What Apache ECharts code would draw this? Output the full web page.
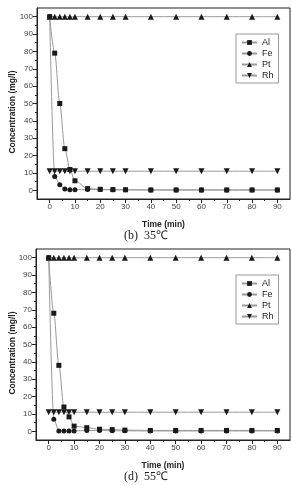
<!DOCTYPE html>
<html>
<head>
<meta charset="utf-8">
<script src="https://cdn.jsdelivr.net/npm/echarts@6/dist/echarts.min.js"></script>
<style>
  html, body { margin: 0; padding: 0; background: #fff; }
  #chart { width: 292px; height: 485px; }
</style>
</head>
<body>
<div id="chart"></div>
<script>
// sampling times (min)
const times = [0, 2, 4, 6, 8, 10, 15, 20, 25, 30, 40, 50, 60, 70, 80, 90];

// (b) 35℃
const al35 = [100, 79, 50, 24, 12, 5.5, 1, 0.6, 0.4, 0.3, 0.2, 0.2, 0.2, 0.2, 0.2, 0.2];
const fe35 = [100, 8, 3.2, 0.8, 0.3, 0.3, 0.5, 0.4, 0.3, 0.3, 0.2, 0.2, 0.2, 0.2, 0.2, 0.2];
const pt35 = [100, 100, 100, 100, 100, 100, 100, 100, 100, 100, 100, 100, 100, 100, 100, 100];
const rh35 = [11, 11, 11, 11, 11, 11, 11, 11, 11, 11, 11, 11, 11, 11, 11, 11];

// (d) 55℃
const al55 = [100, 68, 38, 14, 8.3, 3, 2.1, 1.2, 1, 0.7, 0.5, 0.5, 0.5, 0.5, 0.5, 0.5];
const fe55 = [100, 7, 0.2, 0.2, 0.2, 0.2, 0.5, 0.5, 0.3, 0.3, 0.2, 0.2, 0.2, 0.2, 0.2, 0.2];
const pt55 = [100, 100, 100, 100, 100, 100, 100, 100, 100, 100, 100, 100, 100, 100, 100, 100];
const rh55 = [11, 11, 11, 11, 11, 11, 11, 11, 11, 11, 11, 11, 11, 11, 11, 11];

// tick labels
const xTicks = [0, 10, 20, 30, 40, 50, 60, 70, 80, 90];
const xMinor = [5, 15, 25, 35, 45, 55, 65, 75, 85];
const yTicks = [0, 10, 20, 30, 40, 50, 60, 70, 80, 90, 100];
const yMinor = [5, 15, 25, 35, 45, 55, 65, 75, 85, 95];

const metals = ['Al', 'Fe', 'Pt', 'Rh'];
const captions = ['(b)  35℃', '(d)  55℃'];

const font = 'Liberation Sans, Arial, sans-serif';
const ink = '#222';

const chart = echarts.init(document.getElementById('chart'));

const grids = [
  { left: 37, top: 8, width: 253, height: 191 },
  { left: 36, top: 249, width: 254, height: 191 }
];

const xAxes = [];
const yAxes = [];
grids.forEach((g, gi) => {
  // main axes (labels + major ticks)
  xAxes.push({
    type: 'value', gridIndex: gi, min: -5, max: 95,
    name: 'Time (min)', nameLocation: 'middle', nameGap: 21,
    nameTextStyle: { fontFamily: font, fontSize: 8.5, fontWeight: 'bold', color: ink },
    axisLine: { onZero: false, lineStyle: { color: ink, width: 1 } },
    axisTick: { length: 4, customValues: xTicks, lineStyle: { color: ink } },
    axisLabel: { customValues: xTicks, fontFamily: font, fontSize: 8, color: '#444', margin: 4 },
    splitLine: { show: false }
  });
  yAxes.push({
    type: 'value', gridIndex: gi, min: -5, max: 105,
    axisLine: { show: true, onZero: false, lineStyle: { color: ink, width: 1 } },
    axisTick: { show: true, length: 4, customValues: yTicks, lineStyle: { color: ink } },
    axisLabel: { customValues: yTicks, fontFamily: font, fontSize: 8, color: '#444', margin: 4 },
    splitLine: { show: false }
  });
  // overlay axes for minor ticks
  xAxes.push({
    type: 'value', gridIndex: gi, min: -5, max: 95, position: 'bottom',
    axisLine: { show: false, onZero: false },
    axisTick: { length: 2, customValues: xMinor, lineStyle: { color: ink } },
    axisLabel: { show: false },
    splitLine: { show: false }
  });
  yAxes.push({
    type: 'value', gridIndex: gi, min: -5, max: 105, position: 'left',
    axisLine: { show: false, onZero: false },
    axisTick: { show: true, length: 2, customValues: yMinor, lineStyle: { color: ink } },
    axisLabel: { show: false },
    splitLine: { show: false }
  });
});

function line(name, vals, symbol, size, gi, rotate) {
  return {
    name: name,
    type: 'line',
    xAxisIndex: gi * 2,
    yAxisIndex: gi * 2,
    data: times.map((t, i) => [t, vals[i]]),
    symbol: symbol,
    symbolSize: size,
    symbolRotate: rotate || 0,
    smooth: 0.3,
    smoothMonotone: 'x',
    lineStyle: { color: '#9a9a9a', width: 1 },
    itemStyle: { color: '#1a1a1a' },
    emphasis: { disabled: true }
  };
}

const series = [
  line('Al', al35, 'rect', 5, 0),
  line('Fe', fe35, 'circle', 5, 0),
  line('Pt', pt35, 'triangle', 6, 0),
  line('Rh', rh35, 'triangle', 6, 0, 180),
  line('Al', al55, 'rect', 5, 1),
  line('Fe', fe55, 'circle', 5, 1),
  line('Pt', pt55, 'triangle', 6, 1),
  line('Rh', rh55, 'triangle', 6, 1, 180)
];

const legendBase = {
  data: metals,
  orient: 'vertical',
  left: 236,
  padding: [4, 5, 3, 5],
  itemWidth: 15,
  itemHeight: 6,
  itemGap: 2,
  borderColor: '#999',
  borderWidth: 1,
  selectedMode: false,
  textStyle: { fontFamily: font, fontSize: 9, lineHeight: 9, color: ink }
};

chart.setOption({
  animation: false,
  backgroundColor: '#fff',
  grid: grids.map(g => Object.assign({ show: true, borderColor: ink, borderWidth: 1, backgroundColor: 'transparent' }, g)),
  xAxis: xAxes,
  yAxis: yAxes,
  legend: [
    Object.assign({ top: 34 }, legendBase),
    Object.assign({ top: 275 }, legendBase)
  ],
  title: captions.map((c, i) => ({
    text: c,
    left: 'center',
    top: i === 0 ? 230 : 471,
    padding: 0,
    textStyle: { fontFamily: 'Liberation Serif, Times New Roman, serif', fontSize: 12, fontWeight: 'normal', color: ink }
  })),
  graphic: [
    { type: 'text', x: 13, y: 112, rotation: Math.PI / 2,
      style: { text: 'Concentration (mg/l)', font: 'bold 8.5px ' + font, fill: ink, align: 'center', verticalAlign: 'middle' } },
    { type: 'text', x: 13, y: 353, rotation: Math.PI / 2,
      style: { text: 'Concentration (mg/l)', font: 'bold 8.5px ' + font, fill: ink, align: 'center', verticalAlign: 'middle' } }
  ],
  series: series
});
</script>
</body>
</html>
